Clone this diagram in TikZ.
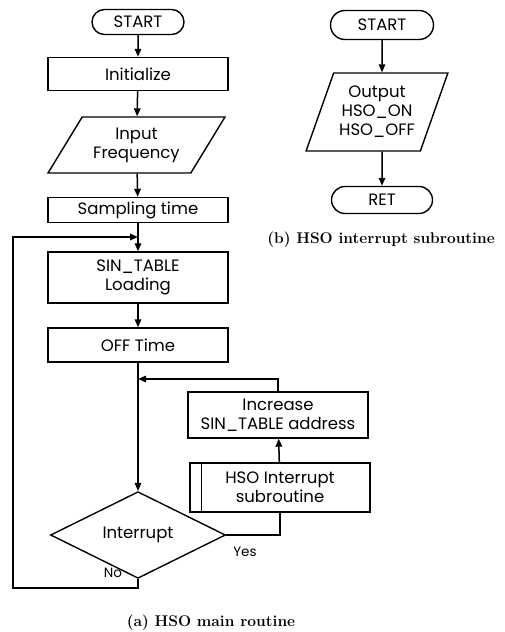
\documentclass[tikz,border=0pt]{standalone}
\usepackage{fontspec}
\setsansfont{Poppins}
\usetikzlibrary{shapes.geometric,shapes.misc,arrows.meta}
\begin{document}
\begin{tikzpicture}[x=1pt,y=-1pt,
  base/.style={draw, line width=1.4pt, font=\sffamily\fontsize{16.5}{19}\selectfont, align=center, inner sep=0pt},
  proc/.style={base, rectangle, minimum width=180pt},
  term/.style={base, rounded rectangle},
  io/.style={base, trapezium, trapezium stretches=true},
  dec/.style={base, diamond, minimum width=175pt, minimum height=46pt},
  conn/.style={line width=1.5pt},
  arr/.style={conn, -{Triangle[length=8pt,width=6.5pt]}},
  lbl/.style={font=\sffamily\fontsize{13.5}{16}\selectfont, inner sep=0pt},
  captxt/.style={font=\rmfamily\bfseries\fontsize{15.5}{18}\selectfont, inner sep=0pt}
]
\useasboundingbox (0,0) rectangle (504,632);
% (a) main routine
\node[term, minimum width=92pt, minimum height=25pt] (startA) at (138,22) {START};
\node[proc, minimum height=33pt] (init) at (138,74) {Initialize};
\node[io, trapezium left angle=52, trapezium right angle=128, minimum width=177pt, minimum height=56pt] (input) at (136.5,145) {Input\\Frequency};
\node[proc, minimum height=25pt] (samp) at (138,210) {Sampling time};
\node[proc, minimum height=51pt] (sin) at (138,277.5) {SIN\_TABLE\\Loading};
\node[proc, minimum height=34pt] (off) at (138,345) {OFF Time};
\node[proc, minimum height=46pt] (inc) at (278,415) {Increase\\SIN\_TABLE address};
\node[proc, minimum height=49pt] (hso) at (280,487.5) {HSO Interrupt\\subroutine};
\draw[conn] ([xshift=12pt]hso.north west) -- ([xshift=12pt]hso.south west);
\node[dec] (dia) at (138,535) {Interrupt};
\node[lbl] (yes) at (245,552) {Yes};
\node[lbl] (no) at (113,573) {No};
\coordinate (j1) at (138,237);
\coordinate (j2) at (138,379);
\coordinate (lb) at (13,588);
\coordinate (lt) at (13,237);
\draw[arr] (startA) -- (init);
\draw[arr] (init) -- (input);
\draw[arr] (input) -- (samp);
\draw[arr] (samp) -- (sin);
\draw[arr] (sin) -- (off);
\draw[arr] (off) -- (dia);
\draw[arr] (dia.south) |- (lb) -- (lt) -- (j1);
\draw[conn] (dia.east) -| (hso.south);
\draw[arr] (hso) -- (inc);
\draw[arr] (inc.north) |- (j2);
\node[captxt] (capA) at (211,623) {(a) HSO main routine};
% (b) interrupt subroutine
\node[term, minimum width=103pt, minimum height=29pt] (startB) at (382,25) {START};
\node[io, trapezium left angle=65, trapezium right angle=115, minimum width=142pt, minimum height=78pt] (out) at (377,112) {Output\\HSO\_ON\\HSO\_OFF};
\node[term, minimum width=101pt, minimum height=27pt] (ret) at (382,200) {RET};
\draw[arr] (startB) -- (startB |- out.north);
\draw[arr] (startB |- out.south) -- (ret);
\node[captxt] (capB) at (381,240) {(b) HSO interrupt subroutine};
\end{tikzpicture}
\end{document}
